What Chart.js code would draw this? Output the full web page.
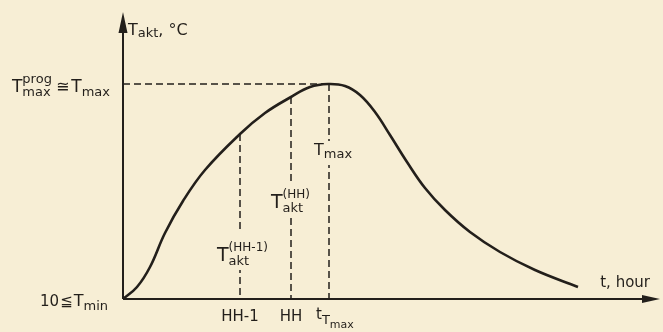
<!DOCTYPE html>
<html>
<head>
<meta charset="utf-8">
<script src="https://cdn.jsdelivr.net/npm/chart.js@4.4.1/dist/chart.umd.min.js"></script>
<style>
  html, body { margin: 0; padding: 0; background: #f7eed5; }
  #wrap { width: 663px; height: 332px; }
</style>
</head>
<body>
<div id="wrap"><canvas id="chart" width="663" height="332"></canvas></div>
<script>
// curve (t in arbitrary hour units, T in arbitrary degree units)
const tHours = [0, 1.4, 2.7, 4.2, 6.0, 8.2, 11.7, 14.2, 16.8, 18.7, 20.5, 22.2, 23.7, 25.2, 26.7, 28.4, 30.2, 32.2, 34.7, 37.7, 41.2, 45.5];
const tempAkt = [10, 11.2, 13.2, 16.6, 19.8, 22.9, 26.5, 28.6, 30.2, 31.2, 31.5, 31.3, 30.4, 28.7, 26.4, 23.7, 21.1, 18.9, 16.7, 14.7, 12.9, 11.2];

// marked hours: HH-1, HH, t_Tmax
const markerT = [11.7, 16.8, 20.6];
const markerTemp = [26.5, 30.2, 31.5];
const markerLabels = ['HH-1', 'HH', ''];

const tMin = 10;
const tPeak = 31.5;
const tAtPeak = 20.6;

const INK = '#231f1b';
const BG = '#f7eed5';
const FONT = '"DejaVu Sans", sans-serif';

const curve = tHours.map((t, i) => ({ x: t, y: tempAkt[i] }));

const dashed = (pts) => ({
  data: pts,
  borderColor: INK,
  borderWidth: 1.5,
  borderDash: [7, 4],
  pointRadius: 0,
  tension: 0,
  fill: false
});

const datasets = [{
  data: curve,
  borderColor: INK,
  borderWidth: 2.6,
  pointRadius: 0,
  tension: 0.4,
  fill: false
}];
datasets.push(dashed([{ x: 0, y: tPeak }, { x: tAtPeak, y: tPeak }]));
markerT.forEach((t, i) => {
  datasets.push(dashed([{ x: t, y: markerTemp[i] }, { x: t, y: tMin }]));
});

// draws pieces of text with sub/superscripts; returns the width
function parts(ctx, x0, base, list, dry) {
  let x = x0, prevStart = x0;
  list.forEach(p => {
    ctx.font = (p.w || 'normal') + ' ' + p.s + 'px ' + FONT;
    const w = ctx.measureText(p.t).width;
    const start = p.stack ? prevStart : x + (p.gap || 0);
    if (!dry) ctx.fillText(p.t, start, base + (p.dy || 0));
    prevStart = start;
    x = Math.max(x, start + w);
  });
  return x - x0;
}
function partsRight(ctx, xr, base, list) {
  const w = parts(ctx, 0, 0, list, true);
  parts(ctx, xr - w, base, list);
}
function partsCenter(ctx, xc, base, list) {
  const w = parts(ctx, 0, 0, list, true);
  parts(ctx, xc - w / 2, base, list);
}

const figure = {
  id: 'figure',
  beforeDraw(chart) {
    const ctx = chart.ctx;
    ctx.save();
    ctx.fillStyle = BG;
    ctx.fillRect(0, 0, chart.width, chart.height);
    ctx.restore();
  },
  afterDatasetsDraw(chart) {
    const { ctx, chartArea: a, scales } = chart;
    const sx = scales.x, sy = scales.y;
    ctx.save();
    ctx.strokeStyle = INK;
    ctx.fillStyle = INK;
    ctx.lineWidth = 2;
    // axes
    ctx.beginPath();
    ctx.moveTo(a.left, a.bottom);
    ctx.lineTo(a.left, a.top + 10);
    ctx.moveTo(a.left, a.bottom);
    ctx.lineTo(a.right - 10, a.bottom);
    ctx.stroke();
    // arrow heads
    ctx.beginPath();
    ctx.moveTo(a.left, a.top);
    ctx.lineTo(a.left - 4.5, a.top + 21);
    ctx.lineTo(a.left + 4.5, a.top + 21);
    ctx.closePath();
    ctx.fill();
    ctx.beginPath();
    ctx.moveTo(a.right, a.bottom);
    ctx.lineTo(a.right - 18, a.bottom - 4);
    ctx.lineTo(a.right - 18, a.bottom + 4);
    ctx.closePath();
    ctx.fill();

    ctx.textBaseline = 'alphabetic';
    ctx.textAlign = 'left';

    // axis titles
    parts(ctx, a.left + 5, a.top + 23, [
      { t: 'T', s: 16 }, { t: 'akt', s: 13, dy: 2 }, { t: ', °C', s: 16 }
    ]);
    partsRight(ctx, a.right - 10, a.bottom - 12, [{ t: 't, hour', s: 15 }]);

    // left side labels
    const yPk = sy.getPixelForValue(tPeak);
    partsRight(ctx, a.left - 13, yPk + 8, [
      { t: 'T', s: 17 },
      { t: 'prog', s: 13, dy: -9 },
      { t: 'max', s: 13, dy: 4, stack: true },
      { t: '≅', s: 16, gap: 4 },
      { t: 'T', s: 17, gap: 2 },
      { t: 'max', s: 13, dy: 4 }
    ]);
    partsRight(ctx, a.left - 15, a.bottom + 7, [
      { t: '10', s: 15 },
      { t: '≦', s: 15, gap: 1 },
      { t: 'T', s: 16, gap: 1 },
      { t: 'min', s: 13, dy: 4 }
    ]);

    // hour labels under the axis
    markerT.forEach((t, i) => {
      if (markerLabels[i]) partsCenter(ctx, sx.getPixelForValue(t), a.bottom + 22, [{ t: markerLabels[i], s: 15 }]);
    });
    const xPk = sx.getPixelForValue(markerT[2]);
    parts(ctx, xPk - 13, a.bottom + 20, [
      { t: 't', s: 15 },
      { t: 'T', s: 13, dy: 5 },
      { t: 'max', s: 11, dy: 9 }
    ]);

    // labels sitting on the dashed lines
    const x1 = sx.getPixelForValue(markerT[0]);
    const x2 = sx.getPixelForValue(markerT[1]);
    ctx.fillStyle = BG;
    ctx.fillRect(x1 - 26, 233, 56, 37);
    ctx.fillRect(x2 - 22, 184, 46, 33);
    ctx.fillRect(xPk - 17, 141, 42, 24);
    ctx.fillStyle = INK;
    parts(ctx, x1 - 23, 261, [
      { t: 'T', s: 19 },
      { t: '(HH-1)', s: 12, dy: -10 },
      { t: 'akt', s: 13, dy: 4, stack: true }
    ]);
    parts(ctx, x2 - 20, 208, [
      { t: 'T', s: 19 },
      { t: '(HH)', s: 12, dy: -10 },
      { t: 'akt', s: 13, dy: 4, stack: true }
    ]);
    parts(ctx, xPk - 15, 155, [
      { t: 'T', s: 16 },
      { t: 'max', s: 13, dy: 3 }
    ]);
    ctx.restore();
  }
};

new Chart(document.getElementById('chart'), {
  type: 'line',
  data: { datasets },
  options: {
    responsive: false,
    animation: false,
    events: [],
    layout: { padding: { left: 123, right: 3, top: 12, bottom: 33 } },
    plugins: { legend: { display: false }, tooltip: { enabled: false } },
    scales: {
      x: { type: 'linear', display: false, min: 0, max: 53.7 },
      y: { type: 'linear', display: false, min: tMin, max: 38.7 }
    }
  },
  plugins: [figure]
});
</script>
</body>
</html>
